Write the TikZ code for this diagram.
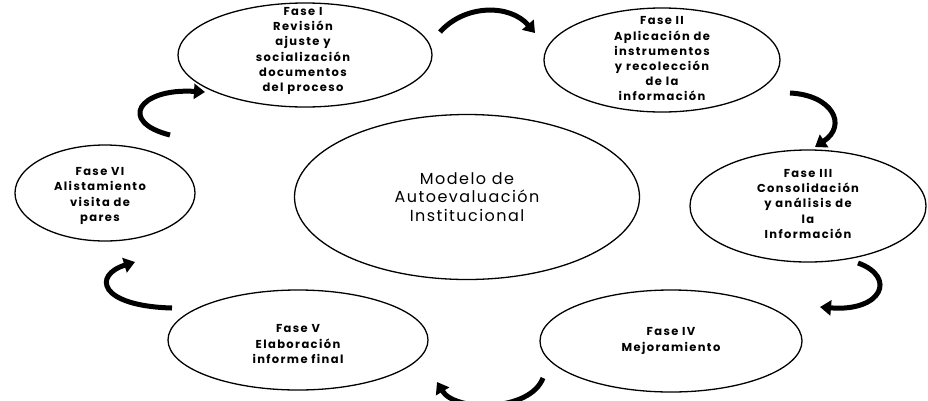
\documentclass[tikz,border=0pt]{standalone}
\usepackage{fontspec}
\setmainfont{Poppins}
\newfontfamily\phasefont[LetterSpace=12]{Poppins}
\newfontfamily\centerfont[LetterSpace=9]{Poppins}
\usetikzlibrary{shapes.geometric,arrows.meta}
\begin{document}
\begin{tikzpicture}[x=1pt,y=-1pt,
  phase/.style={ellipse, draw, line width=1.3pt, inner sep=0pt},
  phasetext/.style={align=center, inner sep=0pt, font=\phasefont\bfseries\fontsize{11.5}{15.2}\selectfont},
  flow/.style={line width=5pt, -{Triangle[length=11pt,width=15pt]}}]
\useasboundingbox[fill=white] (0,0) rectangle (928,400);

\node[phase, minimum width=345pt, minimum height=165pt] (c) at (467,197) {};
\node[align=center, inner sep=0pt, font=\centerfont\fontsize{16}{18.5}\selectfont] (ct) at (c.center) {Modelo de\\Autoevaluación\\Institucional};

\node[phase, minimum width=254pt, minimum height=104pt] (f1) at (305,55) {};
\node[phasetext] (t1) at (303,51) {Fase I\\Revisión\\ajuste y\\socialización\\documentos\\del proceso};

\node[phase, minimum width=236pt, minimum height=104pt] (f2) at (662,60) {};
\node[phasetext] (t2) at (662,59) {Fase II\\Aplicación de\\instrumentos\\y recolección\\de la\\información};

\node[phase, minimum width=236pt, minimum height=112pt] (f3) at (808,206) {};
\node[phasetext] (t3) at (808,204) {Fase III\\Consolidación\\y análisis de\\la\\Información};

\node[phase, minimum width=262pt, minimum height=102pt] (f4) at (671,341) {};
\node[phasetext] (t4) at (671,341) {Fase IV\\Mejoramiento};

\node[phase, minimum width=260pt, minimum height=100pt] (f5) at (298,340) {};
\node[phasetext] (t5) at (298,344) {Fase V\\Elaboración\\informe final};

\node[phase, minimum width=180pt, minimum height=96pt] (f6) at (105,193) {};
\node[phasetext] (t6) at (100,196) {Fase VI\\Alistamiento\\visita de\\pares};

\coordinate (a1s) at (440,32);  \coordinate (a1e) at (535,33);
\coordinate (a2s) at (790,93);  \coordinate (a2e) at (815,147);
\coordinate (a3s) at (858,263); \coordinate (a3e) at (820,307);
\coordinate (a4s) at (543,378); \coordinate (a4e) at (437,382);
\coordinate (a5s) at (172,308); \coordinate (a5e) at (135,262);
\coordinate (a6s) at (170,135); \coordinate (a6e) at (205,92);

\draw[flow] (a1s) .. controls (465,4) and (510,4) .. (a1e);
\draw[flow] (a2s) .. controls (832,95) and (848,125) .. (a2e);
\draw[flow] (a3s) .. controls (897,277) and (882,312) .. (a3e);
\draw[flow] (a4s) .. controls (530,412) and (455,412) .. (a4e);
\draw[flow] (a5s) .. controls (98,306) and (93,275) .. (a5e);
\draw[flow] (a6s) .. controls (118,122) and (138,88) .. (a6e);
\end{tikzpicture}
\end{document}
